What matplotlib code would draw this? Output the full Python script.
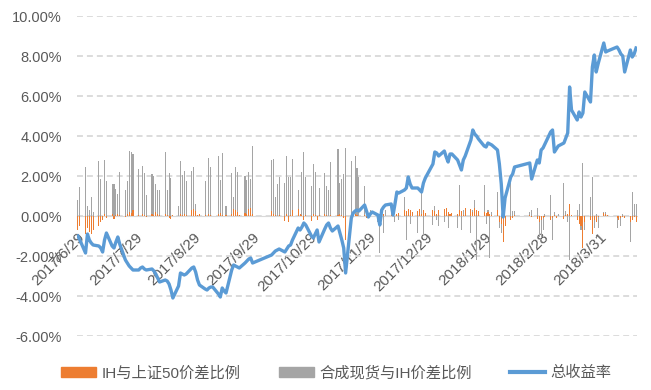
import numpy as np
import pandas as pd
import matplotlib
matplotlib.use('Agg')
import matplotlib.pyplot as plt
from matplotlib.ticker import FuncFormatter
from matplotlib.patches import Patch
from matplotlib.lines import Line2D

plt.rcParams['font.family'] = ['Liberation Sans', 'Noto Sans CJK SC', 'DejaVu Sans']

# trading days (weekdays minus exchange holidays)
holidays = ['2017-10-02', '2017-10-03', '2017-10-04', '2017-10-05', '2017-10-06',
            '2018-01-01', '2018-02-15', '2018-02-16', '2018-02-19', '2018-02-20',
            '2018-02-21', '2018-04-05', '2018-04-06']
days = pd.bdate_range('2017-06-29', '2018-04-19')
days = days[~days.isin(pd.to_datetime(holidays))]

# IH与上证50价差比例 (%)
ih_spread = [
    -0.7, -0.5,
    -0.9, -0.6, -0.8, -0.9, -0.7, -0.5, -0.3, -0.2, 0.1, -0.1, 0.1, -0.15, 0.05, 0.1, 0.05,
    -0.05, 0.1, 0.2, 0.15, 0.3, 0.05,
    0.0, 0.1, 0.05, -0.05, 0.1, 0.05, 0.2, 0.1, 0.05, 0.1, 0.05, -0.1, -0.15, 0.05, 0.0,
    0.1, 0.05, 0.1, 0.05, 0.3, 0.35, 0.25, 0.05,
    0.1, 0.05, 0.0, 0.1, 0.05, 0.0, 0.1, 0.15, 0.05, 0.0, 0.05, 0.1, 0.35, 0.3, 0.2,
    0.05, 0.15, 0.1, 0.35, 0.4, 0.1,
    0.25, 0.1, 0.05, 0.0, 0.05, -0.25, 0.1, -0.3, 0.05, 0.3, 0.35, 0.1, 0.05, -0.2,
    0.05, -0.25, 0.1,
    0.05, -0.2, 0.05, 0.1, 0.05, 0.0, 0.05, 0.0, 0.05, 0.1, 0.05, -0.1, -1.2, 0.1,
    0.05, 0.1, 0.05, 0.0, 0.05, -0.1, 0.0, 0.05,
    0.0, 0.05, -0.1, 0.05, 0.1, 0.0, 0.05, 0.1, 0.0, 0.1, 0.15, 0.3, 0.25, 0.35, 0.3,
    0.2, 0.25, 0.35, 0.1, 0.3, 0.15,
    0.3, 0.25, 0.1, 0.3, 0.35, 0.4, 0.2, 0.1, 0.15, 0.1, 0.3, 0.25, 0.05, 0.4, 0.35,
    0.2, 0.4, 0.3, 0.25, 0.2, 0.15, 0.2,
    0.1, 0.05, 0.3, -0.3, -0.4, -1.28, -0.5, -0.2, -0.1, 0.05, 0.05, -0.05, -0.15,
    -0.3, -0.2,
    -0.1, -0.05, -0.2, -0.1, 0.05, -0.1, 0.0, -0.15, 0.05, 0.1, 0.6, 0.05, -0.2, -0.4,
    -0.5, -1.62, -0.3, -0.2, -0.9, -0.2, -0.3, -0.05,
    0.15, 0.1, 0.05, -0.1, -0.2, -0.1, -0.05, -0.1, -0.3, -0.2, -0.05, -0.3,
]

# 合成现货与IH价差比例 (%)
syn_spread = [
    0.8, 1.45,
    2.45, 0.5, 0.3, 0.97, 0.2, 2.75, 1.85, 0.0, 2.8, 1.75, 1.6, 1.6, 1.35, 1.1, 2.2,
    1.3, 1.75, 3.25, 3.2, 3.1, 2.35,
    0.0, 2.5, 2.15, 1.05, 2.1, 2.0, 1.6, 1.3, 1.3, 3.2, 1.3, 2.15, 1.9, 0.0, 0.5,
    2.75, 2.05, 2.25, 1.75, 2.25, 2.45, 0.6, 0.0,
    0.0, 1.75, 0.0, 2.9, 2.45, 0.0, 3.0, 1.8, 3.15, 0.0, 0.5, 2.13, 0.97, 2.47, 2.2,
    0.0, 2.0, 1.8, 2.18, 1.85, 3.5,
    2.8, 2.83, 0.97, 1.6, 1.97, 1.67, 3.02, 1.93, 1.93, 2.83, 1.3, 0.0, 2.22, 3.18,
    1.93, 1.5, 2.6,
    2.22, 0.0, 1.42, 2.13, 1.5, 1.3, 2.68, 0.0, 3.33, 1.67, 1.83, 2.08, 3.42, 2.75,
    0.0, 3.0, 2.38, 1.93, 1.5, 0.0, 0.0, 0.3,
    0.0, -0.28, -1.87, 0.0, -0.87, 0.3, 0.55, 0.2, -0.3, 0.0, -0.2, 0.97, -1.2, 0.2,
    -0.4, 0.0, -0.87, 0.3, 1.13, -1.0, 0.0,
    -0.45, 0.5, -0.2, -0.5, -0.3, 0.2, -0.6, 0.1, 0.0, -0.6, 1.55, -0.7, 0.3, 0.2,
    -0.87, 0.3, 0.8, -2.2, 0.2, 1.55, -0.4, 0.3,
    -2.1, 0.2, 1.2, -0.6, -0.85, -0.3, 0.0, 1.63, 0.25, 0.25, 0.2, 0.3, 0.38, -1.05,
    -1.1,
    -0.7, 0.1, 1.05, -1.2, 0.2, 0.0, 0.1, 1.63, 0.25, -0.3, -2.2, 0.0, 0.3, 0.6,
    -0.7, 2.63, -0.7, 0.97, 1.97, -0.6, 0.1, -0.6,
    0.2, 0.2, 0.0, -0.6, -0.2, -0.5, 0.1, 0.0, -1.28, 1.22, 0.6, 0.6,
]

# 总收益率 (%)
total_ret = [
    -1.0, -1.2,
    -1.85, -0.9, -1.2, -1.35, -1.45, -1.5, -1.6, -1.8, -1.2, -0.85, -1.5, -1.6, -1.3,
    -1.05, -1.4, -2.2, -2.35, -2.5, -2.6, -2.7, -2.7,
    -2.6, -2.55, -2.65, -2.7, -2.65, -2.75, -2.9, -3.1, -3.3, -3.2, -3.25, -3.4, -3.7,
    -4.1, -3.5, -2.85, -2.9, -2.95, -2.9, -2.6, -2.55, -2.8, -3.2,
    -3.45, -3.65, -3.7, -3.6, -3.55, -3.55, -3.9, -4.05, -3.6, -3.75, -3.85, -2.7,
    -2.45, -2.5, -2.55, -2.6, -2.35, -2.25, -2.15, -2.1, -2.35,
    -1.95, -1.85, -1.75, -1.7, -1.65, -1.8, -1.65, -1.5, -1.45, -1.2, -0.6, -0.7,
    -0.55, -0.35, -0.45, -1.0, -1.1,
    -0.9, -0.7, -1.3, -0.65, -0.45, -0.35, -0.6, -0.75, -0.5, -0.85, -1.2, -1.6,
    -2.85, -0.1, 0.15, 0.25, 0.3, 0.25, 0.55, 0.25, -0.05, 0.1,
    0.2, 0.05, -0.45, 0.3, 0.45, 0.55, 0.6, 0.05, 0.6, 1.2, 1.15, 1.3, 1.4, 1.95,
    1.6, 1.4, 1.4, 1.3, 1.2, 1.65, 1.9,
    2.6, 3.2, 3.15, 3.0, 3.25, 2.95, 2.7, 3.1, 3.1, 2.8, 2.55, 2.3, 2.8, 3.0, 3.8,
    4.3, 4.1, 4.0, 3.85, 3.5, 3.45, 3.65,
    3.6, 3.55, 3.3, 2.6, 1.6, -0.05, 0.9, 1.95, 2.1, 2.45, 2.65, 1.85, 2.8, 2.65, 3.3,
    3.4, 3.6, 4.2, 4.3, 3.2, 3.35, 3.5, 3.65, 3.9, 4.15, 6.45, 5.3, 4.8, 5.2, 4.95,
    5.15, 6.2, 5.7, 7.45, 8.05, 7.2, 7.6,
    8.65, 8.2, 8.25, 8.45, 8.3, 8.1, 8.0, 7.2, 8.3, 7.95, 8.1, 8.4,
]

tick_days = ['2017-06-29', '2017-07-29', '2017-08-29', '2017-09-29', '2017-10-29',
             '2017-11-29', '2017-12-29', '2018-01-29', '2018-02-28', '2018-03-31']
tick_labels = ['2017/6/29', '2017/7/29', '2017/8/29', '2017/9/29', '2017/10/29',
               '2017/11/29', '2017/12/29', '2018/1/29', '2018/2/28', '2018/3/31']

orange = '#ED7D31'
gray = '#A5A5A5'
blue = '#5B9BD5'
txt = '#595959'

fig = plt.figure(figsize=(6.51, 3.9), dpi=100)
ax = fig.add_axes([77 / 651, 54 / 390, 560 / 651, 320 / 390])

ax.bar(days, syn_spread, width=0.55, color=gray, zorder=2)
ax.bar(days, ih_spread, width=0.55, color=orange, zorder=3)
ax.plot(days, total_ret, color=blue, lw=2.4, zorder=4, solid_joinstyle='round')

ax.set_ylim(-6, 10)
ax.set_yticks(np.arange(-6, 10.1, 2))
ax.yaxis.set_major_formatter(FuncFormatter(lambda v, p: f'{v:.2f}%'))
ax.set_xlim(pd.Timestamp('2017-06-28 12:00'), pd.Timestamp('2018-04-19 12:00'))

ax.grid(axis='y', color='#D9D9D9', lw=1.3, ls=(0, (3.3, 2.2)), zorder=0)
for s in ['left', 'right', 'top']:
    ax.spines[s].set_visible(False)
ax.spines['bottom'].set_position(('data', 0))
ax.spines['bottom'].set_color('#D9D9D9')
ax.spines['bottom'].set_zorder(1)

ax.set_xticks(pd.to_datetime(tick_days))
ax.set_xticklabels(tick_labels, rotation=45, ha='right', rotation_mode='anchor')
ax.tick_params(axis='x', length=0, pad=10, labelcolor=txt, labelsize=11)
ax.tick_params(axis='y', length=0, pad=11, labelcolor=txt, labelsize=10.5)

handles = [Patch(color=orange), Patch(color=gray), Line2D([], [], color=blue, lw=3)]
names = ['IH与上证50价差比例', '合成现货与IH价差比例', '总收益率']
leg = fig.legend(handles, names, loc='center', bbox_to_anchor=(336 / 651, 1 - 373 / 390),
                 ncol=3, frameon=False, fontsize=11, handlelength=2.3, handleheight=0.6,
                 handletextpad=0.35, columnspacing=2.5, labelcolor=txt)

fig.savefig('out.png', dpi=100)
